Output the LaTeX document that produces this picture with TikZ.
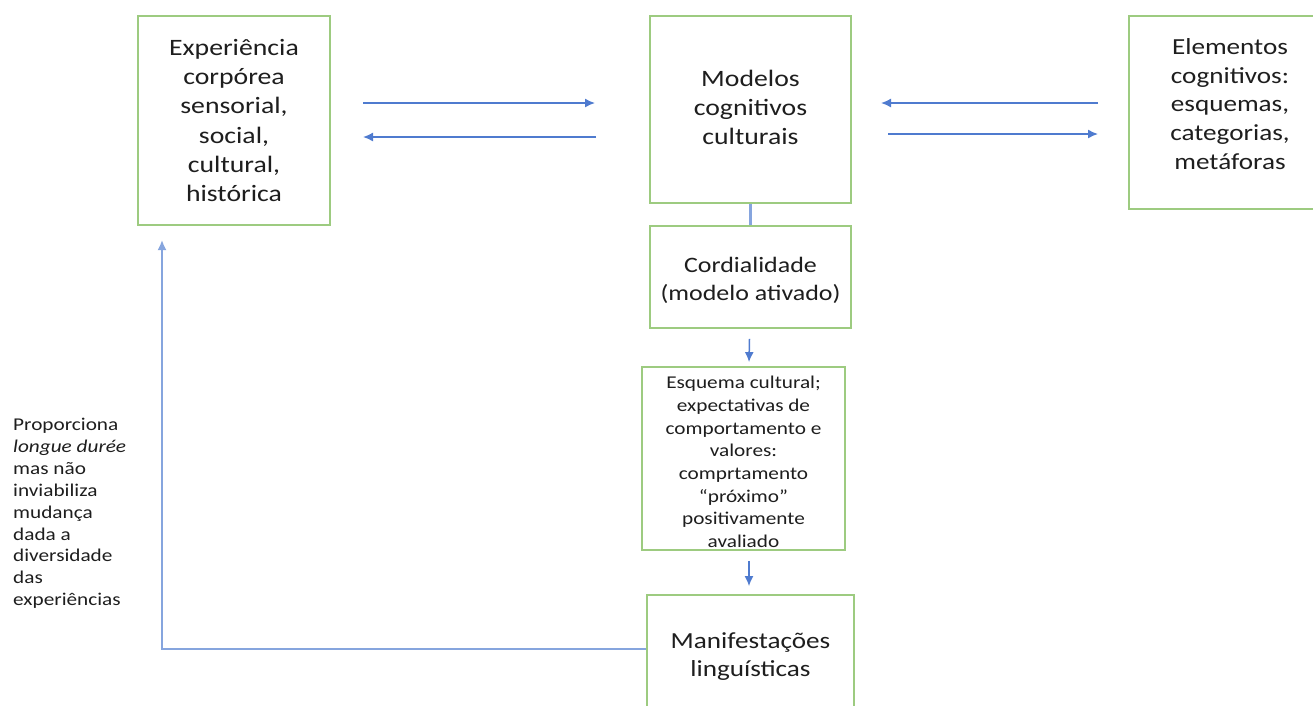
\documentclass[tikz,border=0pt]{standalone}
\usepackage{fontspec}
\setmainfont{Carlito}[FakeStretch=1.18]
\usetikzlibrary{arrows.meta}
\definecolor{boxgreen}{HTML}{9DCB80}
\definecolor{arrowblue}{HTML}{4F7BCF}
\definecolor{lineblue}{HTML}{86A5DE}
\definecolor{txt}{HTML}{1E1E1E}
\tikzset{
  box/.style={draw=boxgreen, line width=1.8pt, fill=white, align=center, text=txt, inner sep=0pt},
  conn/.style={draw=arrowblue, line width=1.5pt, -{Latex[length=10pt,width=9pt]}},
  plainline/.style={draw=lineblue, line width=2.2pt},
  lbl/.style={text=txt, inner sep=0pt}
}
\begin{document}
\begin{tikzpicture}[x=1pt,y=-1pt]
\useasboundingbox (0,0) rectangle (1313,705);
\clip (0,0) rectangle (1313,705);
% boxes
\node[box, minimum width=192pt, minimum height=209pt] (b1) at (234,120.5) {};
\node[lbl, align=center, font=\fontsize{23.5}{29.2}\selectfont] (b1t) at (234,120.5)
  {Experiência\\corpórea\\sensorial,\\social,\\cultural,\\histórica};
\node[box, minimum width=201pt, minimum height=187pt] (b2) at (750.5,109.5) {};
\node[lbl, align=center, font=\fontsize{23.5}{29}\selectfont] (b2t) at (750.5,107.5)
  {Modelos\\cognitivos\\culturais};
\node[box, minimum width=202pt, minimum height=193pt] (b3) at (1230,112.5) {};
\node[lbl, align=center, font=\fontsize{23}{28.7}\selectfont] (b3t) at (1230,104)
  {Elementos\\cognitivos:\\esquemas,\\categorias,\\metáforas};
\node[box, minimum width=201pt, minimum height=102pt] (b4) at (750.5,277) {};
\node[lbl, align=center, font=\fontsize{22}{28}\selectfont] (b4t) at (750.5,280)
  {Cordialidade\\(modelo ativado)};
\node[box, minimum width=203pt, minimum height=183pt] (b5) at (743.5,458.5) {};
\node[lbl, align=center, font=\fontsize{18}{22.7}\selectfont] (b5t) at (743.5,462)
  {Esquema cultural;\\expectativas de\\comportamento e\\valores:\\comprtamento\\“próximo”\\positivamente\\avaliado};
\node[box, minimum width=207pt, minimum height=118pt] (b6) at (750.5,654) {};
\node[lbl, align=center, font=\fontsize{23}{28}\selectfont] (b6t) at (750.5,657)
  {Manifestações\\linguísticas};
\node[lbl, align=left, anchor=north west, font=\fontsize{18}{21.9}\selectfont] (note) at (13,418)
  {Proporciona\\\textit{longue durée}\\mas não\\inviabiliza\\mudança\\dada a\\diversidade\\das\\experiências};
% arrow end points
\coordinate (p1) at (363,103);
\coordinate (p2) at (595,103);
\coordinate (p3) at (596,137);
\coordinate (p4) at (363,137);
\coordinate (q1) at (1098,103);
\coordinate (q2) at (881,103);
\coordinate (q3) at (888,134);
\coordinate (q4) at (1098,134);
\coordinate (fb) at (162,240);
% connectors
\draw[conn] (p1) -- (p2);
\draw[conn] (p3) -- (p4);
\draw[conn] (q1) -- (q2);
\draw[conn] (q3) -- (q4);
\draw[plainline] (b2.south) -- (b4.north);
\draw[conn] ([xshift=-1pt,yshift=-10pt]b4.south) -- ([xshift=5.5pt,yshift=4pt]b5.north);
\draw[conn] ([xshift=5.5pt,yshift=-10pt]b5.south) -- ([xshift=-1.5pt,yshift=8pt]b6.north);
\draw[plainline, line width=1.8pt, -{Latex[length=10pt,width=9pt]}] ([yshift=5pt]b6.west) -| (fb);
\end{tikzpicture}
\end{document}
